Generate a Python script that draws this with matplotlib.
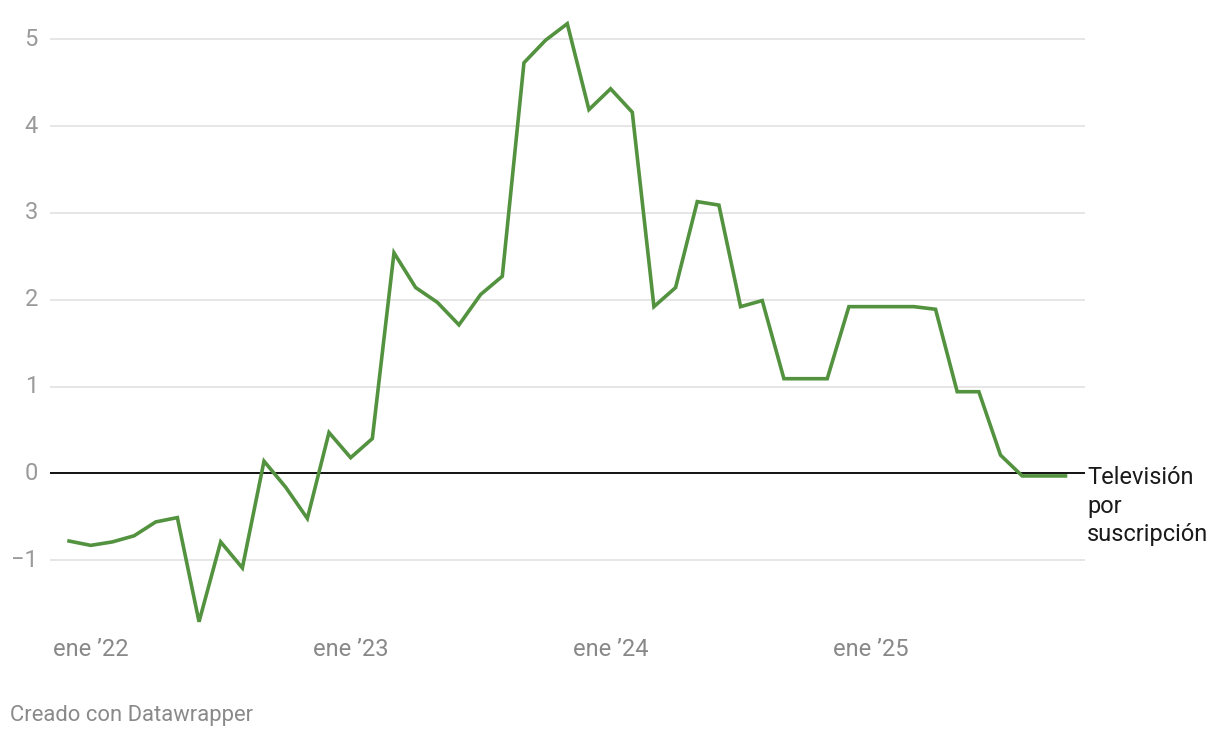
import matplotlib
matplotlib.use("Agg")
import matplotlib.pyplot as plt
import matplotlib.transforms as mtransforms

plt.rcParams['font.family'] = ['Roboto', 'DejaVu Sans']

# variación mensual, ene 2022 - nov 2025
months = list(range(47))
values = [
    -0.78, -0.83, -0.79, -0.72, -0.56, -0.51, -1.71, -0.79, -1.09, 0.14, -0.16, -0.52,
    0.47, 0.18, 0.40, 2.54, 2.14, 1.97, 1.71, 2.06, 2.27, 4.73, 4.99, 5.18,
    4.19, 4.43, 4.16, 1.92, 2.14, 3.13, 3.09, 1.92, 1.99, 1.09, 1.09, 1.09,
    1.92, 1.92, 1.92, 1.92, 1.89, 0.94, 0.94, 0.21, -0.03, -0.03, -0.03,
]
year_ticks = [0, 12, 24, 36]
year_labels = ["ene ’22", "ene ’23", "ene ’24", "ene ’25"]
y_ticks = [-1, 0, 1, 2, 3, 4, 5]
series_label = ["Televisión", "por", "suscripción"]

W, H = 1220, 738
fig = plt.figure(figsize=(W / 100, H / 100), dpi=100)
ax = fig.add_axes([50 / W, 1 - 630 / H, (1085 - 50) / W, (630 - 15) / H])

ax.set_xlim(-0.88, 46.9)
ax.set_ylim(-1.805, 5.28)

for t in y_ticks:
    if t == 0:
        ax.axhline(0, color="#111111", lw=1.4, zorder=3)
    else:
        ax.axhline(t, color="#e2e2e2", lw=1.2, zorder=1)

ax.plot(months, values, color="#53923f", lw=2.6, solid_joinstyle="miter", zorder=4)

for s in ax.spines.values():
    s.set_visible(False)
ax.set_xticks([])
ax.set_yticks([])

# y labels
ytr = mtransforms.blended_transform_factory(fig.transFigure, ax.transData)
for t in y_ticks:
    lab = str(t).replace("-", "−")
    ax.text(38 / W, t, lab, transform=ytr, ha="right", va="center",
            fontsize=17, color="#9a9a9a")

# x labels
xtr = mtransforms.blended_transform_factory(ax.transData, fig.transFigure)
for m, lab in zip(year_ticks, year_labels):
    ax.text(m - 0.74, 1 - 649 / H, lab, transform=xtr, ha="left", va="center",
            fontsize=17, color="#888888")

# series label, one line at a time
for i, line in enumerate(series_label):
    fig.text(1087 / W, 1 - (478 + 28 * i) / H, line, ha="left", va="center",
             fontsize=17, color="#1a1a1a")

fig.text(10 / W, 1 - 716 / H, "Creado con Datawrapper", ha="left", va="center",
         fontsize=15.8, color="#8a8a8a")

fig.savefig("out.png", dpi=100, facecolor="white")
